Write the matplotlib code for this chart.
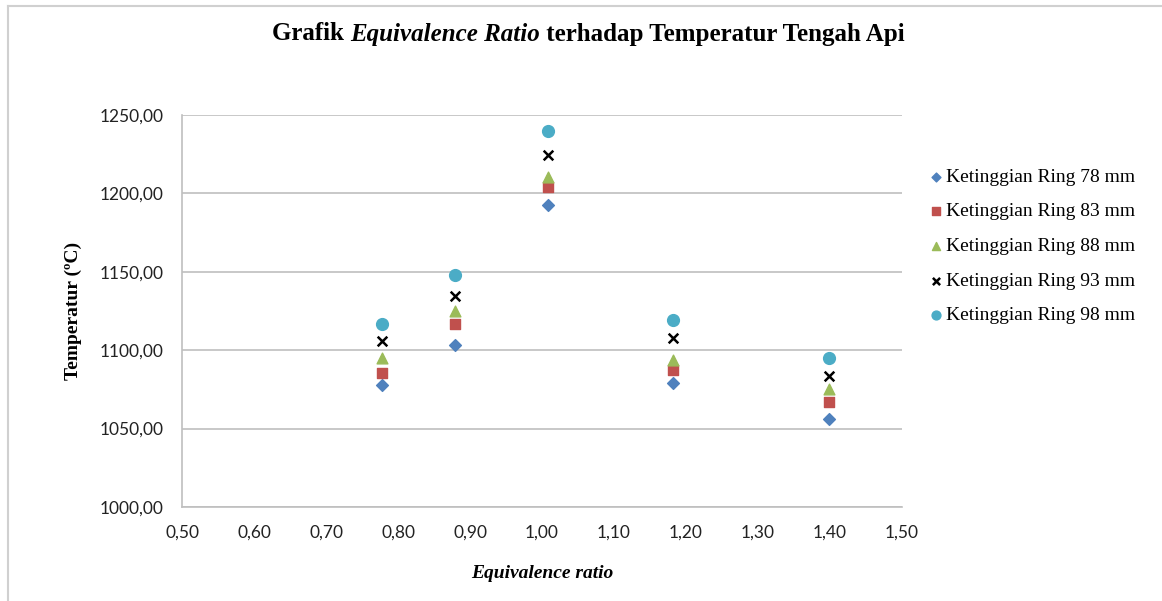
import matplotlib.pyplot as plt
from matplotlib.lines import Line2D
from matplotlib.ticker import FuncFormatter

# equivalence ratio (x) for each measurement
ratio = [0.778, 0.879, 1.008, 1.182, 1.399]

ring_labels = ['Ketinggian Ring 78 mm', 'Ketinggian Ring 83 mm', 'Ketinggian Ring 88 mm',
               'Ketinggian Ring 93 mm', 'Ketinggian Ring 98 mm']
temp_78 = [1077.8, 1103.3, 1192.6, 1079.0, 1056.0]
temp_83 = [1085.5, 1116.7, 1204.0, 1087.4, 1067.0]
temp_88 = [1095.0, 1125.0, 1210.5, 1093.8, 1075.3]
temp_93 = [1105.9, 1134.6, 1224.5, 1107.8, 1083.5]
temp_98 = [1116.7, 1148.0, 1239.8, 1119.3, 1095.0]

x_ticks = [0.5, 0.6, 0.7, 0.8, 0.9, 1.0, 1.1, 1.2, 1.3, 1.4, 1.5]
y_ticks = [1000, 1050, 1100, 1150, 1200, 1250]

W, H = 1162, 601
fig = plt.figure(figsize=(W / 100, H / 100), dpi=100)
ax = fig.add_axes([182 / W, 1 - 507 / H, 720 / W, 392 / H])

styles = [
    dict(marker='D', color='#4F81BD', s=36),
    dict(marker='s', color='#C0504D', s=62),
    dict(marker='^', color='#9BBB59', s=60),
    dict(marker='x', color='black', s=48, linewidths=1.8),
    dict(marker='o', color='#4BACC6', s=72),
]
series = [temp_78, temp_83, temp_88, temp_93, temp_98]
for vals, lab, st in zip(series, ring_labels, styles):
    ax.scatter(ratio, vals, label=lab, zorder=3, **st)

ax.set_xlim(0.5, 1.5)
ax.set_ylim(1000, 1250)
ax.set_xticks(x_ticks)
ax.set_yticks(y_ticks)
ax.xaxis.set_major_formatter(FuncFormatter(lambda v, p: ('%.2f' % v).replace('.', ',')))
ax.yaxis.set_major_formatter(FuncFormatter(lambda v, p: ('%.2f' % v).replace('.', ',')))
ax.tick_params(axis='y', length=0, labelsize=12.5, colors='#222222', pad=13)
ax.tick_params(axis='x', length=0, labelsize=12.5, colors='#222222', pad=13)
for lbl in ax.get_xticklabels() + ax.get_yticklabels():
    lbl.set_family('Lato')
ax.grid(axis='y', color='#BFBFBF', lw=1.2)
ax.set_axisbelow(True)
for side in ['top', 'right']:
    ax.spines[side].set_visible(False)
for side in ['left', 'bottom']:
    ax.spines[side].set_color('#BFBFBF')
    ax.spines[side].set_linewidth(1.2)

ax.set_ylabel('Temperatur (ºC)', family='Liberation Serif', weight='bold', fontsize=14, labelpad=13)
ax.set_xlabel('Equivalence ratio', family='Liberation Serif', weight='bold', style='italic',
              fontsize=14, labelpad=17)

leg = ax.legend(loc='upper left', bbox_to_anchor=(926 / W, 1 - 168 / H),
                bbox_transform=fig.transFigure, frameon=False, borderaxespad=0, borderpad=0,
                prop={'family': 'Liberation Serif', 'size': 14}, handletextpad=0.05,
                labelspacing=0.88, markerscale=0.75, handlelength=1.0)

# title with italic segment, built from pieces
parts = [('Grafik ', 'normal'), ('Equivalence Ratio', 'italic'),
         (' terhadap Temperatur Tengah Api', 'normal')]
renderer = fig.canvas.get_renderer()
texts = []
total = 0
for s, st in parts:
    t = fig.text(0, 1 - 34 / H, s, family='Liberation Serif', weight='bold', style=st,
                 fontsize=18, va='center', ha='left')
    w = t.get_window_extent(renderer).width
    texts.append((t, w))
    total += w
x0 = 588 - total / 2
for t, w in texts:
    t.set_x(x0 / W)
    x0 += w

# outer chart border
fig.add_artist(Line2D([8 / W, 8 / W], [0, 1 - 6 / H], color='#D0D0D0', lw=1.5))
fig.add_artist(Line2D([8 / W, 1], [1 - 6 / H, 1 - 6 / H], color='#D0D0D0', lw=1.5))

fig.savefig('out.png', dpi=100)
